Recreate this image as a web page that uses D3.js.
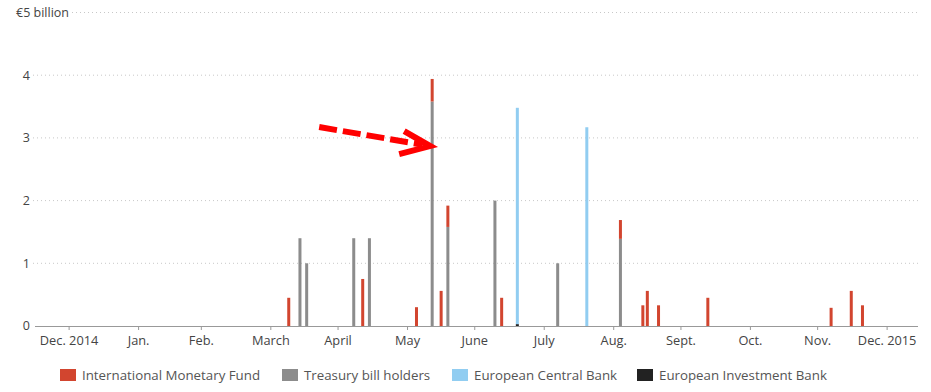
<!DOCTYPE html>
<html>
<head>
<meta charset="utf-8">
<script src="https://cdn.jsdelivr.net/npm/d3@7"></script>
<style>
  body { margin: 0; background: #fff; }
  text { font-family: "Open Sans", "Noto Sans", sans-serif; }
</style>
</head>
<body>
<div id="chart"></div>
<script>
const width = 931, height = 392;
const margin = { top: 12.5, right: 13, bottom: 66, left: 35 };

// repayment dates and amounts in € billion
const dates = ["2015-03-09", "2015-03-14", "2015-03-17", "2015-04-07", "2015-04-11", "2015-04-14",
  "2015-05-05", "2015-05-12", "2015-05-16", "2015-05-19", "2015-06-09", "2015-06-12", "2015-06-19",
  "2015-07-07", "2015-07-20", "2015-08-04", "2015-08-14", "2015-08-16", "2015-08-21", "2015-09-12",
  "2015-11-06", "2015-11-15", "2015-11-20"];
const imf    = [0.45, 0, 0, 0, 0.75, 0, 0.3, 0.36, 0.56, 0.34, 0, 0.45, 0, 0, 0, 0.3, 0.33, 0.56, 0.33, 0.45, 0.29, 0.56, 0.33];
const tbills = [0, 1.4, 1.0, 1.4, 0, 1.4, 0, 3.58, 0, 1.58, 2.0, 0, 0, 1.0, 0, 1.39, 0, 0, 0, 0, 0, 0, 0];
const ecb    = [0, 0, 0, 0, 0, 0, 0, 0, 0, 0, 0, 0, 3.45, 0, 3.17, 0, 0, 0, 0, 0, 0, 0, 0];
const eib    = [0, 0, 0, 0, 0, 0, 0, 0, 0, 0, 0, 0, 0.03, 0, 0, 0, 0, 0, 0, 0, 0, 0, 0];

const seriesNames = ["International Monetary Fund", "Treasury bill holders", "European Central Bank", "European Investment Bank"];
const colors = ["#d2452f", "#8c8c8c", "#91cdf1", "#222222"];

// tick positions as they sit in the original (Feb. tick is drawn a little early there)
const monthTicks = ["2014-12-01", "2015-01-01", "2015-01-29", "2015-03-01", "2015-03-31", "2015-05-01",
  "2015-05-31", "2015-07-01", "2015-08-01", "2015-08-31", "2015-10-01", "2015-10-31", "2015-12-01"];
const monthLabels = ["Dec. 2014", "Jan.", "Feb.", "March", "April", "May", "June", "July", "Aug.", "Sept.", "Oct.", "Nov.", "Dec. 2015"];
const yTicks = [0, 1, 2, 3, 4, 5];

const parse = d3.utcParse("%Y-%m-%d");

const rows = dates.map((d, i) => ({ date: parse(d), imf: imf[i], tbills: tbills[i], ecb: ecb[i], eib: eib[i] }));
const keys = ["eib", "ecb", "tbills", "imf"]; // stacking order bottom to top
const colorOf = { imf: colors[0], tbills: colors[1], ecb: colors[2], eib: colors[3] };
const stacked = d3.stack().keys(keys)(rows);

const x = d3.scaleUtc()
    .domain([parse("2014-11-16"), parse("2015-12-15")])
    .range([margin.left, width - margin.right]);

const y = d3.scaleLinear()
    .domain([0, 5])
    .range([height - margin.bottom, margin.top]);

const svg = d3.select("#chart").append("svg")
    .attr("width", width)
    .attr("height", height);

// dotted gridlines
svg.append("g")
  .selectAll("line")
  .data(yTicks.filter(t => t > 0))
  .join("line")
    .attr("x1", t => t === 5 ? 72 : margin.left - 2)
    .attr("x2", width - margin.right)
    .attr("y1", t => y(t))
    .attr("y2", t => y(t))
    .attr("stroke", "#c8c8c8")
    .attr("stroke-dasharray", "1,3");

// y labels
svg.append("g")
  .selectAll("text")
  .data(yTicks)
  .join("text")
    .attr("x", t => t === 5 ? 16 : 30)
    .attr("y", t => y(t))
    .attr("dy", "0.35em")
    .attr("text-anchor", t => t === 5 ? "start" : "end")
    .attr("font-size", 12.5)
    .attr("fill", "#444")
    .text(t => t === 5 ? "€5 billion" : t);

// bars
const barW = 3;
svg.append("g")
  .selectAll("g")
  .data(stacked)
  .join("g")
    .attr("fill", s => colorOf[s.key])
  .selectAll("rect")
  .data(s => s.filter(d => d[1] - d[0] > 0))
  .join("rect")
    .attr("x", d => x(d.data.date) - barW / 2 + 0.5)
    .attr("width", barW)
    .attr("y", d => y(d[1]))
    .attr("height", d => y(d[0]) - y(d[1]));

// x axis
const xAxis = svg.append("g")
    .attr("transform", `translate(0,${y(0)})`)
    .call(d3.axisBottom(x)
      .tickValues(monthTicks.map(parse))
      .tickSize(4)
      .tickPadding(6)
      .tickFormat((d, i) => monthLabels[i]));
xAxis.select(".domain").attr("stroke", "#999").attr("d", `M${margin.left},0.5H${width - margin.right}`);
xAxis.selectAll(".tick line").attr("stroke", "#999");
xAxis.selectAll(".tick text")
    .attr("font-family", "Open Sans, Noto Sans, sans-serif")
    .attr("font-size", 12.8)
    .attr("fill", "#444");

// annotation arrow pointing at the big May repayment
const target = rows[7];
const tip = [x(target.date) - barW / 2, y(2.87)];
const tail = [tip[0] - 111, tip[1] - 19];
svg.append("line")
    .attr("x1", tail[0]).attr("y1", tail[1])
    .attr("x2", tip[0] - 8).attr("y2", tip[1] - 1.4)
    .attr("stroke", "#ff0000")
    .attr("stroke-width", 6)
    .attr("stroke-dasharray", "18,6");
svg.append("path")
    .attr("d", d3.line()([[tip[0] - 26, tip[1] - 15], tip, [tip[0] - 31, tip[1] + 8]]))
    .attr("fill", "none")
    .attr("stroke", "#ff0000")
    .attr("stroke-width", 6)
    .attr("stroke-linejoin", "miter");

// legend
const legendX = [60, 282, 452, 637];
const legend = svg.append("g")
  .selectAll("g")
  .data(seriesNames)
  .join("g")
    .attr("transform", (d, i) => `translate(${legendX[i]},375)`);
legend.append("rect")
    .attr("y", -6)
    .attr("width", 16)
    .attr("height", 12)
    .attr("fill", (d, i) => colors[i]);
legend.append("text")
    .attr("x", 22)
    .attr("dy", "0.35em")
    .attr("font-size", 13.3)
    .attr("fill", "#555")
    .text(d => d);
</script>
</body>
</html>
